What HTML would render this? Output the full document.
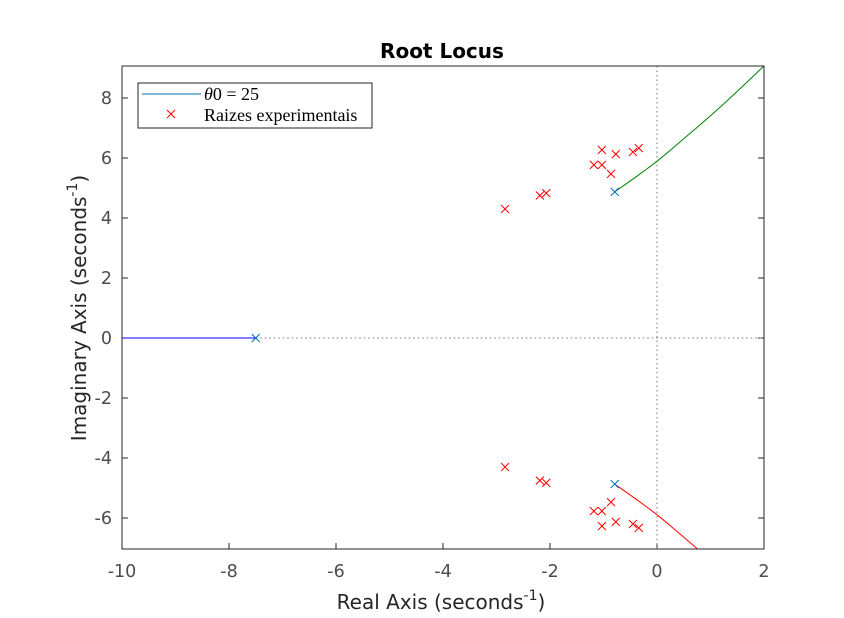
<!DOCTYPE html>
<html><head><meta charset="utf-8"><style>
body{margin:0;background:#fff}
svg{display:block;font-family:"DejaVu Sans","Liberation Sans",sans-serif}
</style></head><body>
<svg id="chart" width="844" height="618">
<defs><clipPath id="clip"><rect x="122" y="66" width="642" height="483"/></clipPath></defs>
<rect x="122" y="66" width="642" height="483" fill="#fff"/>
<g id="axes"></g>
<g id="marks" clip-path="url(#clip)"></g>
<rect x="122" y="66" width="642" height="483" fill="none" stroke="#262626" stroke-width="1"/>
<text x="442" y="58" text-anchor="middle" font-size="20" font-weight="bold" fill="#000">Root Locus</text>
<text x="441" y="609" text-anchor="middle" font-size="20" fill="#262626">Real Axis (seconds<tspan dy="-9" font-size="14">-1</tspan><tspan dy="9">)</tspan></text>
<text transform="translate(86,308) rotate(-90)" text-anchor="middle" font-size="20" fill="#262626">Imaginary Axis (seconds<tspan dy="-9" font-size="14">-1</tspan><tspan dy="9">)</tspan></text>
<g>
<rect x="138" y="83" width="234" height="45" fill="#fff" stroke="#262626"/>
<line x1="142" y1="94" x2="201" y2="94" stroke="#0072bd"/>
<text x="204" y="100" font-family="Liberation Serif,serif" font-size="18"><tspan font-style="italic">θ</tspan>0 = 25</text>
<path d="M167 110l8 8M175 110l-8 8" stroke="#f00"/>
<text x="204" y="121" font-family="Liberation Serif,serif" font-size="18">Raizes experimentais</text>
</g>
</svg>
<script>
const xTicks=[-10,-8,-6,-4,-2,0,2];
const yTicks=[-6,-4,-2,0,2,4,6,8];
const expRe=[-2.84,-2.19,-2.07,-1.03,-0.77,-1.18,-1.03,-0.86,-0.45,-0.34];
const expIm=[4.3,4.75,4.83,6.27,6.13,5.77,5.77,5.47,6.2,6.33];
const poleRe=[-7.5,-0.79,-0.79];
const poleIm=[0,4.87,-4.87];
const branchUpRe=[-0.79,-0.6,-0.4,-0.2,0,0.25,0.5,0.75,1,1.25,1.5,1.75,2];
const branchUpIm=[4.87,5.11,5.36,5.62,5.89,6.26,6.64,7.02,7.41,7.81,8.22,8.64,9.07];
const realBranchRe=[-10,-7.5];
const X=v=>122+(v+10)*53.5, Y=v=>338-v*30;
const ns='http://www.w3.org/2000/svg';
const axes=document.getElementById('axes'), marks=document.getElementById('marks');
function mk(tag,attrs,parent){const e=document.createElementNS(ns,tag);for(const k in attrs)e.setAttribute(k,attrs[k]);parent.appendChild(e);return e;}
xTicks.forEach(t=>{
  const l=mk('line',{x1:X(t),x2:X(t),y1:549,y2:543,stroke:'#262626'},axes);
  
  
  const tx=mk('text',{x:X(t),y:577,'text-anchor':'middle','font-size':17.5,fill:'#4d4d4d'},axes);
  tx.textContent=t;
  
  
});
yTicks.forEach(t=>{
  const l=mk('line',{x1:122,x2:128,y1:Y(t),y2:Y(t),stroke:'#262626'},axes);
  
  
  const r=mk('line',{x1:764,x2:758,y1:Y(t),y2:Y(t),stroke:'#262626'},axes);
  
  
  const tx=mk('text',{x:112,y:Y(t)+6,'text-anchor':'end','font-size':17.5,fill:'#4d4d4d'},axes);
  tx.textContent=t;
  
  
});
const v0=mk('line',{x1:X(0),x2:X(0),y1:66,y2:549,stroke:'#777','stroke-dasharray':'1.5,3'},marks);


const h0=mk('line',{x1:X(-7.5),x2:764,y1:Y(0),y2:Y(0),stroke:'#777','stroke-dasharray':'1.5,3'},marks);


const rb=mk('line',{x1:X(realBranchRe[0]),x2:X(realBranchRe[1]),y1:Y(0),y2:Y(0),stroke:'#0000ff'},marks);


const up=mk('polyline',{points:branchUpRe.map((r,i)=>X(r)+','+Y(branchUpIm[i])).join(' '),fill:'none',stroke:'#008000'},marks);


const dn=mk('polyline',{points:branchUpRe.map((r,i)=>X(r)+','+Y(-branchUpIm[i])).join(' '),fill:'none',stroke:'#ff0000'},marks);


function cross(x,y,c,name){
  const p=mk('path',{d:`M${x-4} ${y-4}l8 8M${x+4} ${y-4}l-8 8`,stroke:c,fill:'none'},marks);
  
  
}
expRe.forEach((r,i)=>{cross(X(r),Y(expIm[i]),'#f00','experimental-root');cross(X(r),Y(-expIm[i]),'#f00','experimental-root');});
poleRe.forEach((r,i)=>cross(X(r),Y(poleIm[i]),'#0072bd','pole'));
</script>
</body></html>
